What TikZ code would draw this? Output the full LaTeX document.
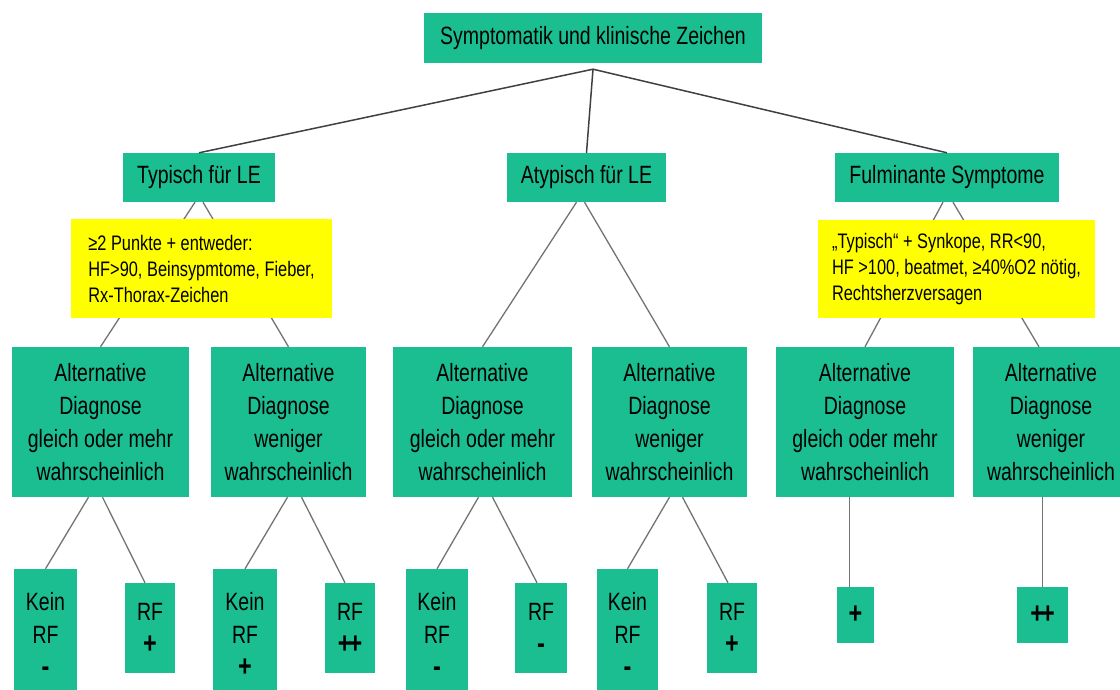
\documentclass[tikz,border=0pt]{standalone}
\usepackage{fontspec}
\setmainfont[FakeStretch=0.78]{Liberation Sans}
\usetikzlibrary{positioning}
\definecolor{boxgreen}{RGB}{26,190,145}
\definecolor{boxyellow}{RGB}{255,255,0}
\newcommand{\sgn}[1]{{\fontsize{30}{33}\selectfont\bfseries #1}}

\begin{document}
\begin{tikzpicture}[x=1pt,y=-1pt,
    gbox/.style={fill=boxgreen,inner sep=0pt,align=center,font=\fontsize{25}{33}\selectfont},
    ybox/.style={fill=boxyellow,inner sep=0pt,align=left,font=\fontsize{21}{26}\selectfont},
    link/.style={draw=black!55,line width=1.3pt},
    toplink/.style={draw=black!75,line width=1.5pt}]
      \useasboundingbox (0,0) rectangle (1120,689);
      \clip (0,0) rectangle (1120,689);
      \node[gbox,minimum width=338pt,minimum height=50pt] (root) at (593,38) {Symptomatik und klinische Zeichen};
      \coordinate[below=6pt of root] (junc);
      \node[gbox,minimum width=152pt,minimum height=49pt] (typ) at (199,177.5) {Typisch für LE};
      \node[gbox,minimum width=159pt,minimum height=49pt] (atyp) at (586.5,177.5) {Atypisch für LE};
      \node[gbox,minimum width=224pt,minimum height=49pt] (ful) at (947,177.5) {Fulminante Symptome};
      \node[gbox,minimum width=177pt,minimum height=150pt] (alt1) at (100.5,422) {Alternative\\Diagnose\\gleich oder mehr\\wahrscheinlich};
      \node[gbox,minimum width=155pt,minimum height=150pt] (alt2) at (288.5,422) {Alternative\\Diagnose\\weniger\\wahrscheinlich};
      \node[gbox,minimum width=179pt,minimum height=150pt] (alt3) at (482.5,422) {Alternative\\Diagnose\\gleich oder mehr\\wahrscheinlich};
      \node[gbox,minimum width=155pt,minimum height=150pt] (alt4) at (669.5,422) {Alternative\\Diagnose\\weniger\\wahrscheinlich};
      \node[gbox,minimum width=178pt,minimum height=150pt] (alt5) at (865,422) {Alternative\\Diagnose\\gleich oder mehr\\wahrscheinlich};
      \node[gbox,minimum width=156pt,minimum height=150pt] (alt6) at (1051,422) {Alternative\\Diagnose\\weniger\\wahrscheinlich};
      \node[gbox,minimum width=63pt,minimum height=131pt] (kein1) at (45.5,634.5) {Kein\\RF\\\sgn{-}};
      \node[gbox,minimum width=50pt,minimum height=90pt] (rf1) at (150,628) {RF\\\sgn{+}};
      \node[gbox,minimum width=64pt,minimum height=131pt] (kein2) at (245,634.5) {Kein\\RF\\\sgn{+}};
      \node[gbox,minimum width=50pt,minimum height=90pt] (rf2) at (350,628) {RF\\\sgn{+\kern-3pt+}};
      \node[gbox,minimum width=62pt,minimum height=131pt] (kein3) at (437,634.5) {Kein\\RF\\\sgn{-}};
      \node[gbox,minimum width=52pt,minimum height=90pt] (rf3) at (541,628) {RF\\\sgn{-}};
      \node[gbox,minimum width=61pt,minimum height=131pt] (kein4) at (627.5,634.5) {Kein\\RF\\\sgn{-}};
      \node[gbox,minimum width=50pt,minimum height=90pt] (rf4) at (732,628) {RF\\\sgn{+}};
      \node[gbox,minimum width=37pt,minimum height=56pt] (plus5) at (855.5,615) {\sgn{+}};
      \node[gbox,minimum width=51pt,minimum height=56pt] (plus6) at (1042.5,615) {\sgn{+\kern-3pt+}};
      \path[toplink] (junc) -- (typ.north);
      \path[toplink] (junc) -- (atyp.north);
      \path[toplink] (junc) -- (ful.north);
      \path[link] ([xshift=-4pt]typ.south) -- (alt1.north);
      \path[link] ([xshift=4pt]typ.south) -- (alt2.north);
      \path[link] ([xshift=-10pt]atyp.south) -- (alt3.north);
      \path[link] ([xshift=-2pt]atyp.south) -- (alt4.north);
      \path[link] ([xshift=-4pt]ful.south) -- (alt5.north);
      \path[link] ([xshift=6pt]ful.south) -- ([xshift=-12pt]alt6.north);
      \path[link] ([xshift=-12pt]alt1.south) -- (kein1.north);
      \path[link] ([xshift=2pt]alt1.south) -- ([xshift=-5pt]rf1.north);
      \path[link] ([xshift=-1pt]alt2.south) -- (kein2.north);
      \path[link] ([xshift=13pt]alt2.south) -- ([xshift=-5pt]rf2.north);
      \path[link] ([xshift=-4pt]alt3.south) -- (kein3.north);
      \path[link] ([xshift=10pt]alt3.south) -- ([xshift=-4pt]rf3.north);
      \path[link] (alt4.south) -- (kein4.north);
      \path[link] ([xshift=13pt]alt4.south) -- ([xshift=-4pt]rf4.north);
      \path[link] ([xshift=-6pt]plus5.north) -- ([xshift=-6pt]plus5.north |- alt5.south);
      \path[link] (plus6.north) -- (plus6.north |- alt6.south);
      \node[ybox,minimum width=261pt,minimum height=99pt] (crit1) at (201.5,268.5) {≥2 Punkte + entweder:\\HF>90, Beinsypmtome, Fieber,\\Rx-Thorax-Zeichen};
      \node[ybox,minimum width=277pt,minimum height=98pt] (crit2) at (956.5,269) {„Typisch“ + Synkope, RR<90,\\HF >100, beatmet, ≥40\%O2 nötig,\\Rechtsherzversagen};
\end{tikzpicture}
\end{document}
